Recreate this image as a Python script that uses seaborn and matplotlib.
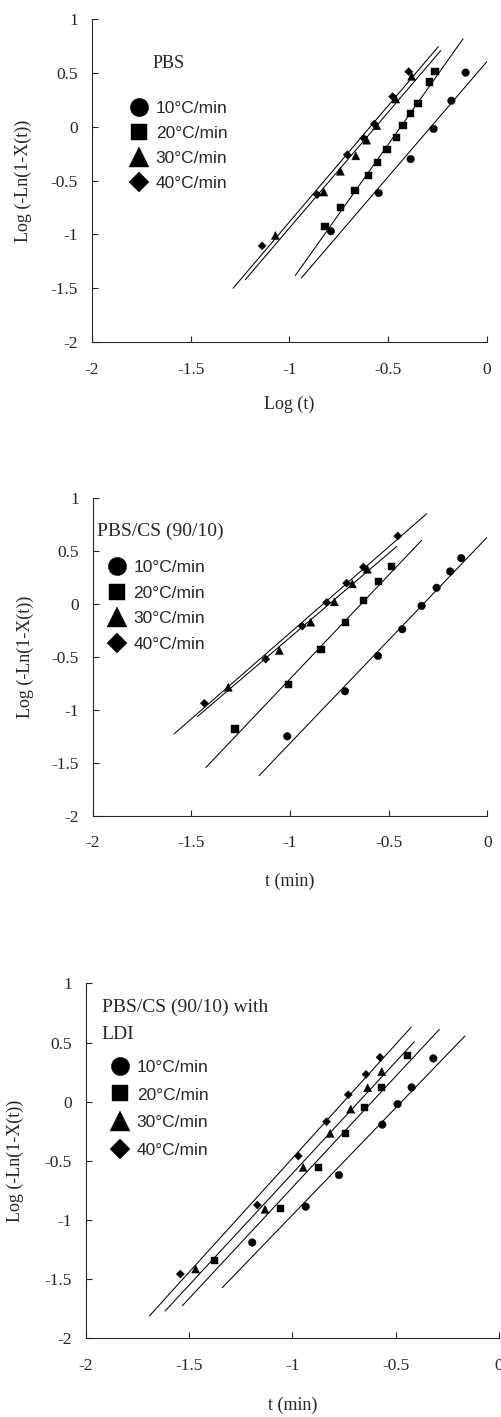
import numpy as np
import pandas as pd
import matplotlib
matplotlib.use('Agg')
import matplotlib.pyplot as plt
from matplotlib.ticker import FuncFormatter
import seaborn as sns

sns.set_style('ticks')
plt.rcParams['font.family'] = ['Liberation Serif', 'DejaVu Serif']
plt.rcParams['axes.unicode_minus'] = False

rates = ['10°C/min', '20°C/min', '30°C/min', '40°C/min']

# --- PBS ---
p1_x_10 = [-0.79, -0.548, -0.386, -0.27, -0.18, -0.108]
p1_y_10 = [-0.97, -0.615, -0.30, -0.02, 0.242, 0.503]
p1_x_20 = [-0.82, -0.74, -0.668, -0.60, -0.555, -0.506, -0.46, -0.425, -0.386, -0.349, -0.29, -0.263]
p1_y_20 = [-0.925, -0.75, -0.59, -0.456, -0.335, -0.21, -0.096, 0.016, 0.121, 0.217, 0.416, 0.516]
p1_x_30 = [-1.071, -0.826, -0.742, -0.664, -0.609, -0.558, -0.462, -0.381]
p1_y_30 = [-1.01, -0.606, -0.413, -0.27, -0.124, 0.01, 0.258, 0.469]
p1_x_40 = [-1.138, -0.86, -0.707, -0.624, -0.57, -0.477, -0.396]
p1_y_40 = [-1.106, -0.63, -0.26, -0.106, 0.025, 0.28, 0.512]
# fitted lines (end points)
p1_fit_x = [[-0.939, 0.0], [-0.97, -0.121], [-1.223, -0.234], [-1.285, -0.246]]
p1_fit_y = [[-1.404, 0.606], [-1.382, 0.817], [-1.42, 0.708], [-1.5, 0.745]]

# --- PBS/CS (90/10) ---
p2_x_10 = [-1.014, -0.721, -0.554, -0.431, -0.333, -0.257, -0.188, -0.132]
p2_y_10 = [-1.249, -0.823, -0.489, -0.237, -0.016, 0.155, 0.309, 0.435]
p2_x_20 = [-1.279, -1.007, -0.843, -0.721, -0.628, -0.551, -0.485]
p2_y_20 = [-1.18, -0.763, -0.432, -0.17, 0.035, 0.218, 0.356]
p2_x_30 = [-1.313, -1.054, -0.895, -0.775, -0.684, -0.608]
p2_y_30 = [-0.785, -0.438, -0.17, 0.022, 0.192, 0.331]
p2_x_40 = [-1.434, -1.123, -0.938, -0.814, -0.713, -0.628, -0.454]
p2_y_40 = [-0.937, -0.52, -0.208, 0.016, 0.199, 0.35, 0.644]
p2_fit_x = [[-1.157, 0.0], [-1.426, -0.333], [-1.47, -0.459], [-1.588, -0.307]]
p2_fit_y = [[-1.621, 0.634], [-1.543, 0.603], [-1.063, 0.546], [-1.227, 0.855]]

# --- PBS/CS (90/10) with LDI ---
p3_x_10 = [-1.195, -0.936, -0.775, -0.565, -0.491, -0.423, -0.318]
p3_y_10 = [-1.19, -0.887, -0.62, -0.194, -0.02, 0.121, 0.366]
p3_x_20 = [-1.379, -1.057, -0.875, -0.744, -0.652, -0.568, -0.444]
p3_y_20 = [-1.344, -0.899, -0.555, -0.268, -0.045, 0.118, 0.389]
p3_x_30 = [-1.469, -1.133, -0.948, -0.818, -0.718, -0.636, -0.568]
p3_y_30 = [-1.414, -0.91, -0.555, -0.268, -0.062, 0.118, 0.254]
p3_x_40 = [-1.543, -1.17, -0.972, -0.835, -0.73, -0.644, -0.576]
p3_y_40 = [-1.456, -0.873, -0.459, -0.169, 0.059, 0.231, 0.375]
p3_fit_x = [[-1.34, -0.165], [-1.533, -0.289], [-1.617, -0.41], [-1.693, -0.426]]
p3_fit_y = [[-1.572, 0.555], [-1.724, 0.611], [-1.769, 0.507], [-1.811, 0.628]]

y_label = 'Log (-Ln(1-X(t))'

panels = [
    dict(xs=[p1_x_10, p1_x_20, p1_x_30, p1_x_40], ys=[p1_y_10, p1_y_20, p1_y_30, p1_y_40],
         fx=p1_fit_x, fy=p1_fit_y, title='PBS', xlabel='Log (t)',
         pos=[0.183, 0.7586, 0.787, 0.2279], title_xy=(0.154, 0.864), title_fs=13,
         leg_xy=(0.098, 0.748), leg_sp=0.58, ylab_x=-0.152, xlab_y=-0.167),
    dict(xs=[p2_x_10, p2_x_20, p2_x_30, p2_x_40], ys=[p2_y_10, p2_y_20, p2_y_30, p2_y_40],
         fx=p2_fit_x, fy=p2_fit_y, title='PBS/CS (90/10)', xlabel='t (min)',
         pos=[0.1847, 0.4243, 0.786, 0.224], title_xy=(0.011, 0.895), title_fs=14,
         leg_xy=(0.039, 0.806), leg_sp=0.6, ylab_x=-0.149, xlab_y=-0.18),
    dict(xs=[p3_x_10, p3_x_20, p3_x_30, p3_x_40], ys=[p3_y_10, p3_y_20, p3_y_30, p3_y_40],
         fx=p3_fit_x, fy=p3_fit_y, title='PBS/CS (90/10) with\nLDI', xlabel='t (min)',
         pos=[0.1713, 0.0555, 0.8227, 0.2505], title_xy=(0.038, 0.894), title_fs=14,
         leg_xy=(0.062, 0.785), leg_sp=0.72, ylab_x=-0.151, xlab_y=-0.165),
]

markers = dict(zip(rates, ['o', 's', '^', 'D']))
sizes = dict(zip(rates, [30, 26, 34, 17]))
fmt = FuncFormatter(lambda v, p: f'{v:g}')

fig = plt.figure(figsize=(5.02, 14.17), dpi=100)

for pnl in panels:
    ax = fig.add_axes(pnl['pos'])
    rows = []
    for rate, xv, yv in zip(rates, pnl['xs'], pnl['ys']):
        rows.append(pd.DataFrame({'x': xv, 'y': yv, 'rate': rate}))
    df = pd.concat(rows, ignore_index=True)

    for fx, fy in zip(pnl['fx'], pnl['fy']):
        ax.plot(fx, fy, color='black', lw=0.75, zorder=1)

    sns.scatterplot(data=df, x='x', y='y', style='rate', size='rate',
                    markers=markers, sizes=sizes, color='black',
                    edgecolor='black', linewidth=0.3, ax=ax, zorder=2)

    handles, labels = ax.get_legend_handles_labels()
    ax.legend(handles, labels, loc='upper left', bbox_to_anchor=pnl['leg_xy'],
              frameon=False, borderpad=0, borderaxespad=0, handlelength=1.0,
              handletextpad=0.45, labelspacing=pnl['leg_sp'], markerscale=2.4,
              prop={'family': 'Liberation Sans', 'size': 12.5})

    ax.text(*pnl['title_xy'], pnl['title'], transform=ax.transAxes,
            ha='left', va='center', fontsize=pnl['title_fs'], linespacing=1.75)

    ax.set_xlim(-2, 0)
    ax.set_ylim(-2, 1)
    ax.set_xticks([-2, -1.5, -1, -0.5, 0])
    ax.set_yticks([-2, -1.5, -1, -0.5, 0, 0.5, 1])
    ax.xaxis.set_major_formatter(fmt)
    ax.yaxis.set_major_formatter(fmt)
    ax.tick_params(axis='both', direction='in', length=4, width=0.8, labelsize=12.5)
    ax.tick_params(axis='x', pad=14)
    ax.tick_params(axis='y', pad=10)
    for side in ['left', 'bottom']:
        ax.spines[side].set_linewidth(0.8)
    sns.despine(ax=ax)

    ax.set_xlabel(pnl['xlabel'], fontsize=13)
    ax.set_ylabel(y_label, fontsize=13)
    ax.yaxis.set_label_coords(pnl['ylab_x'], 0.5)
    ax.xaxis.set_label_coords(0.5, pnl['xlab_y'])

fig.savefig('out.png', dpi=100)
